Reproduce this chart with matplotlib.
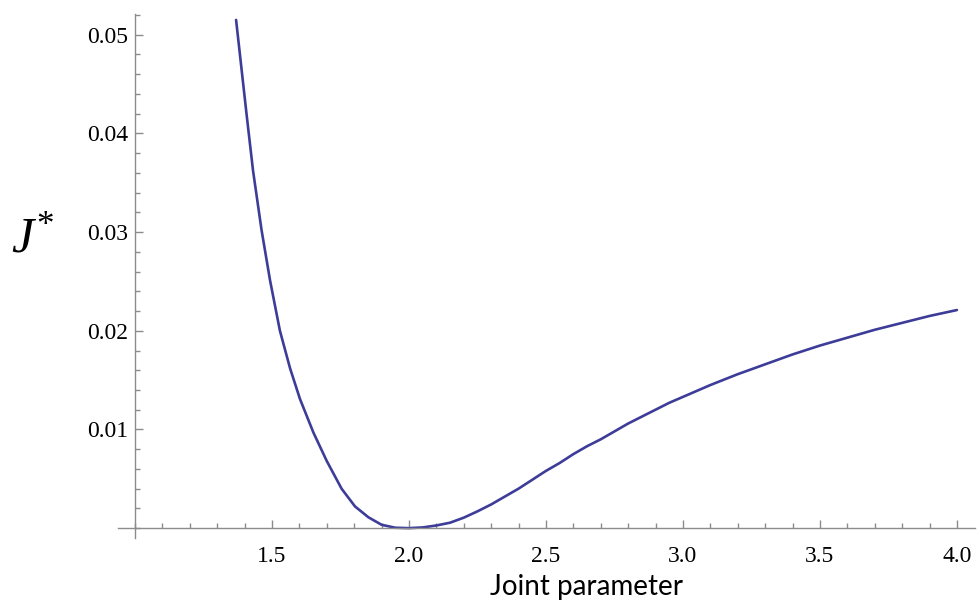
import matplotlib
matplotlib.use('Agg')
import matplotlib.pyplot as plt
from matplotlib.ticker import MultipleLocator, FixedLocator, FormatStrFormatter

plt.rcParams['mathtext.fontset'] = 'custom'
plt.rcParams['mathtext.it'] = 'Liberation Serif:italic'
plt.rcParams['mathtext.rm'] = 'Liberation Serif'

# values
joint_param = [1.369, 1.387, 1.407, 1.431, 1.462, 1.493, 1.529, 1.566,
               1.602, 1.651, 1.700, 1.754, 1.803, 1.852, 1.900, 1.950,
               2.000, 2.050, 2.100, 2.150, 2.200, 2.250, 2.300, 2.350,
               2.400, 2.450, 2.500, 2.550, 2.600, 2.650, 2.700, 2.750,
               2.800, 2.850, 2.900, 2.950, 3.000, 3.100, 3.200, 3.300,
               3.400, 3.500, 3.600, 3.700, 3.800, 3.900, 4.000]
j_star = [0.0515, 0.0470, 0.0420, 0.0362, 0.0302, 0.0251, 0.0200, 0.0162,
          0.0131, 0.0097, 0.0068, 0.0040, 0.0022, 0.0011, 0.00034, 0.00004,
          0.0, 0.00007, 0.00027, 0.00055, 0.00106, 0.0017, 0.0024, 0.0032,
          0.0040, 0.0049, 0.0058, 0.0066, 0.0075, 0.0083, 0.0090, 0.0098,
          0.0106, 0.0113, 0.0120, 0.0127, 0.0133, 0.0145, 0.0156, 0.0166,
          0.0176, 0.0185, 0.0193, 0.0201, 0.0208, 0.0215, 0.0221]

x_major = [1.5, 2.0, 2.5, 3.0, 3.5, 4.0]
y_major = [0.01, 0.02, 0.03, 0.04, 0.05]

fig = plt.figure(figsize=(9.78, 6.0), dpi=100)
ax = fig.add_axes([118 / 978, 62 / 600, 857 / 978, 524 / 600])

ax.plot(joint_param, j_star, color='#3d3d99', linewidth=1.9,
        solid_joinstyle='round', solid_capstyle='round')

ax.set_xlim(0.938, 4.066)
ax.set_ylim(-0.001, 0.0521)

ax.spines['left'].set_position(('data', 1.0))
ax.spines['bottom'].set_position(('data', 0.0))
ax.spines['top'].set_visible(False)
ax.spines['right'].set_visible(False)
for side in ['left', 'bottom']:
    ax.spines[side].set_color('#8c8c8c')
    ax.spines[side].set_linewidth(1.0)

ax.xaxis.set_major_locator(FixedLocator(x_major))
ax.xaxis.set_minor_locator(MultipleLocator(0.1))
ax.yaxis.set_major_locator(FixedLocator(y_major))
ax.yaxis.set_minor_locator(MultipleLocator(0.002))
ax.xaxis.set_major_formatter(FormatStrFormatter('%.1f'))
ax.yaxis.set_major_formatter(FormatStrFormatter('%.2f'))

ax.tick_params(which='both', direction='in', color='#8c8c8c', width=1.0)
ax.tick_params(which='major', length=6)
ax.tick_params(which='minor', length=3.5)
ax.tick_params(axis='x', which='major', pad=13)
ax.tick_params(axis='y', which='major', pad=5)
for lbl in ax.get_xticklabels() + ax.get_yticklabels():
    lbl.set_fontfamily('Liberation Serif')
    lbl.set_fontsize(17)

fig.text(587 / 978, 1 - 595 / 600, 'Joint parameter', ha='center', va='baseline',
         fontfamily='Lato', fontsize=20)
fig.text(33 / 978, 1 - 238 / 600, '$J^{*}$', ha='center', va='center',
         fontsize=36)

fig.savefig('out.png', dpi=100, facecolor='white')
